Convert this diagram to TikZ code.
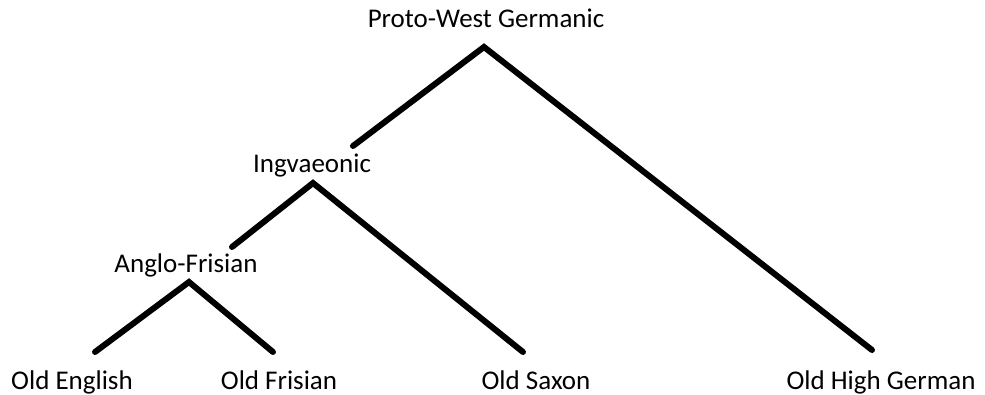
\documentclass[tikz,border=0pt]{standalone}
\usepackage{fontspec}
\setmainfont{Carlito}
\begin{document}
\begin{tikzpicture}[x=1pt,y=-1pt,
  lbl/.style={inner sep=0pt, anchor=base, font=\fontsize{27}{32}\selectfont},
  branch/.style={line width=6pt, line cap=round, line join=miter}]
\useasboundingbox (0,0) rectangle (985,395);
\node[lbl] (pwg) at (486,28) {Proto-West Germanic};
\node[lbl] (ing) at (312,173) {Ingvaeonic};
\node[lbl] (af) at (186,273) {Anglo-Frisian};
\node[lbl] (oe) at (72,389) {Old English};
\node[lbl] (of) at (279,389) {Old Frisian};
\node[lbl] (os) at (536,389) {Old Saxon};
\node[lbl] (ohg) at (881,389) {Old High German};
\coordinate (pwgA) at (484,47);
\coordinate (pwgL) at (353,146);
\coordinate (pwgR) at (872,350);
\coordinate (ingA) at (313,183);
\coordinate (ingL) at (232,247);
\coordinate (ingR) at (523,352);
\coordinate (afA) at (189,282);
\coordinate (afL) at (95,352);
\coordinate (afR) at (273,352);
\draw[branch] (pwgL) -- (pwgA) -- (pwgR);
\draw[branch] (ingL) -- (ingA) -- (ingR);
\draw[branch] (afL) -- (afA) -- (afR);
\end{tikzpicture}
\end{document}
